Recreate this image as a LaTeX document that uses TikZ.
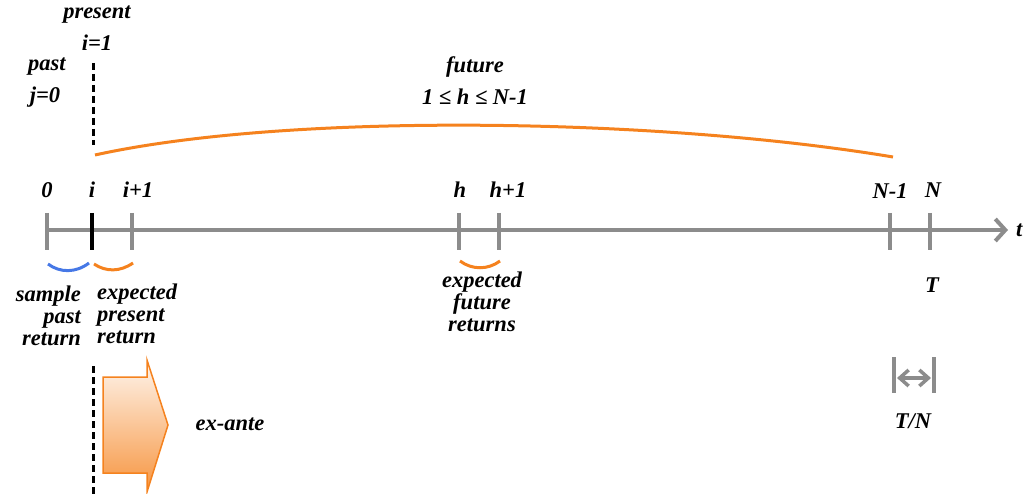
\documentclass[tikz,border=0pt]{standalone}
\usepackage{fontspec}
\setmainfont{Liberation Serif}
\usetikzlibrary{arrows.meta, positioning, calc}

\definecolor{axisgray}{RGB}{140,140,140}
\definecolor{futorange}{RGB}{245,130,30}
\definecolor{pastblue}{RGB}{70,120,230}

\begin{document}
\begin{tikzpicture}[
    x=1pt, y=-1pt,
    lbl/.style={font=\fontsize{22.5}{22}\selectfont\bfseries\itshape, inner sep=0pt, align=center},
    axisline/.style={draw=axisgray, line width=4pt},
    tick/.style={draw=axisgray, line width=4pt},
    nowtick/.style={draw=black, line width=4pt},
    split/.style={draw=black, line width=3pt, dash pattern=on 7pt off 4pt},
    brace/.style={line width=3pt},
    barb/.style={-{Straight Barb[length=10pt, width=22pt]}},
    dblbarb/.style={{Straight Barb[length=9pt, width=16pt]}-{Straight Barb[length=9pt, width=16pt]}}
]
\useasboundingbox (0,0) rectangle (1033,494);

% time axis
\coordinate (ax0) at (47,230);
\coordinate (axend) at (1008,230);
\draw[axisline, barb] (ax0) -- (axend);
\node[lbl, right=8pt of axend] (t) {t};

% ticks
\foreach \x/\name in {47/zero, 132/ip, 459/h, 499/hp, 890/nm, 930/n}
    \draw[tick] (\x,213) -- (\x,250) coordinate (tk-\name);
\draw[nowtick] (92,213) -- (92,250) coordinate (tk-i);

% tick labels
\node[lbl] (l-zero) at (47,190) {0};
\node[lbl] (l-i) at (92,190) {i};
\node[lbl] (l-ip) at (138,190) {i+1};
\node[lbl] (l-h) at (460,190) {h};
\node[lbl] (l-hp) at (508,190) {h+1};
\node[lbl] (l-nm) at (890,191) {N-1};
\node[lbl] (l-n) at (933,190) {N};
\node[lbl] (l-T) at (932,285) {T};

% braces under the axis
\draw[brace, pastblue] (48,264) .. controls (60,273) and (76,273) .. (89,263);
\draw[brace, futorange] (94,264) .. controls (106,272) and (120,272) .. (133,263);
\draw[brace, futorange] (460,261) .. controls (472,270) and (488,270) .. (500,261);

\node[lbl, align=right, anchor=north east] (past-ret) at (81,286) {sample\\past\\return};
\node[lbl, align=left, anchor=north west] (pres-ret) at (97,284) {expected\\present\\return};
\node[lbl, anchor=north] (fut-ret) at (482,272) {expected\\future\\returns};

% present / past / future
\node[lbl] (present) at (97,15) {present};
\node[lbl] (ione) at (97,43) {i=1};
\node[lbl] (past) at (47,67) {past};
\node[lbl] (jzero) at (45,97) {j=0};
\node[lbl] (future) at (475,67) {future};
\node[lbl] (hrange) at (475,97) {1 ≤ h ≤ N-1};

\draw[split] (93,63) -- (93,145);
\draw[split] (93,366) -- (93,494);

% future span
\draw[futorange, line width=3pt] (95,155) .. controls (290,112) and (660,118) .. (893,157);

% ex-ante arrow
\draw[futorange, line width=1.5pt, top color=futorange!8, bottom color=futorange!85]
    (103,377) -- (147,377) -- (147,360) -- (168,425) -- (147,492)
    -- (147,473) -- (103,473) -- cycle;
\node[lbl] (exante) at (230,424) {ex-ante};

% step length T/N
\draw[tick, line width=3.5pt] (894,357) -- (894,393) coordinate (bar-l);
\draw[tick, line width=3.5pt] (934,357) -- (934,393) coordinate (bar-r);
\draw[draw=axisgray, line width=3.5pt, dblbarb] (897,378) -- (931,378);
\node[lbl] (tn) at (913,421) {T/N};

\end{tikzpicture}
\end{document}
